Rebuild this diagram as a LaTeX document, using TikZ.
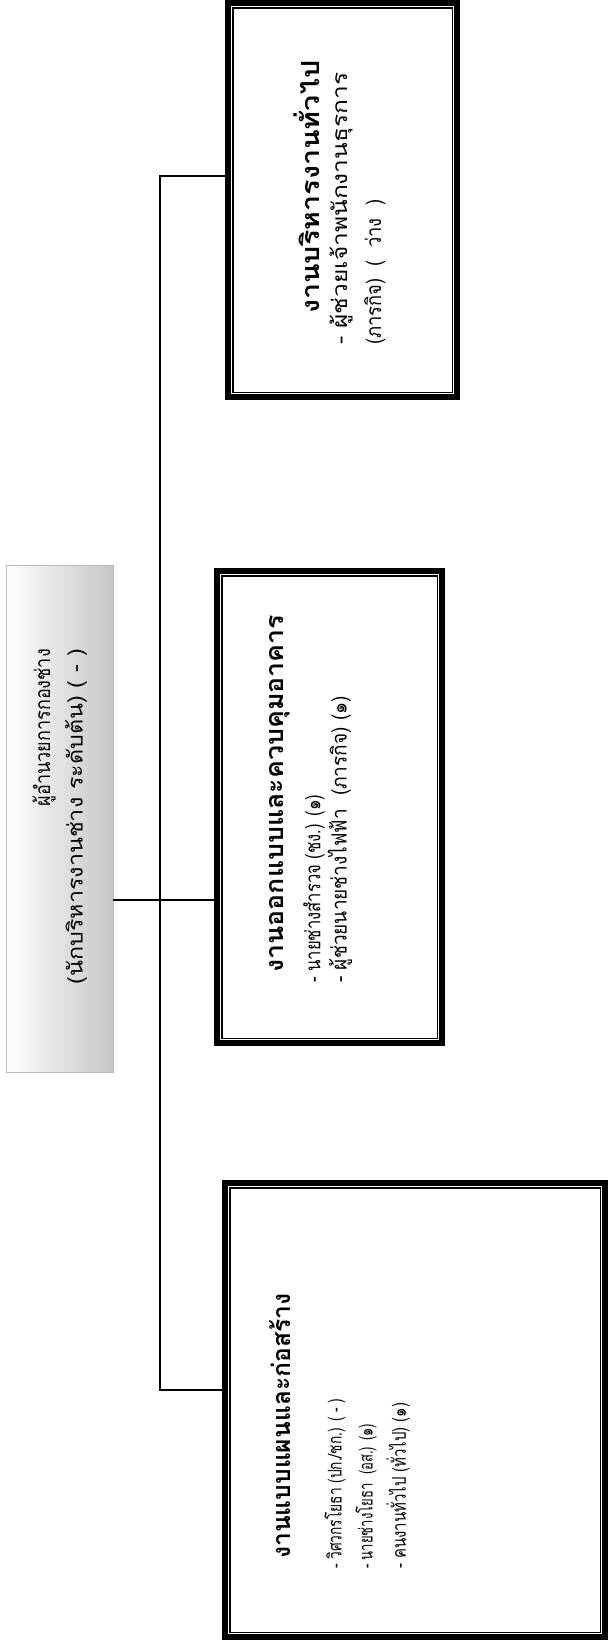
\documentclass[tikz,border=0pt]{standalone}
\usepackage{graphicx}
\usepackage{fontspec}
\newfontfamily\thai[Script=Thai]{Loma}
\usetikzlibrary{calc}
\newcommand{\fw}[2]{\resizebox{#1}{\height}{#2}}
\tikzset{
  outerbox/.style={draw=black, line width=6.5pt, rectangle, inner sep=0pt},
  innerbox/.style={draw=black, line width=1.5pt},
  conn/.style={draw=black, line width=1.2pt},
  rootbox/.style={rectangle, draw=gray!55, line width=0.8pt, left color=white, right color=gray!45, inner sep=0pt},
  ttl/.style={rotate=90, anchor=west, inner sep=0pt, font=\thai\bfseries\fontsize{25}{29}\selectfont},
  itm/.style={rotate=90, anchor=west, inner sep=0pt, font=\thai\fontsize{21}{25}\selectfont},
  itmsmall/.style={itm, font=\thai\fontsize{19}{23}\selectfont},
  rtxt/.style={rotate=90, anchor=east, inner sep=0pt, font=\thai\fontsize{21}{25}\selectfont},
}
\begin{document}
\begin{tikzpicture}[x=1pt,y=-1pt]
\useasboundingbox (0,0) rectangle (610,1642);
\fill[white] (0,0) rectangle (610,1642);
% root box
\node[rootbox, minimum width=107pt, minimum height=507pt] (root) at (59.5,818.5) {};
\node[rtxt] (r1) at (44,649) {\fw{157pt}{ผู้อำนวยการกองช่าง}};
\node[rtxt] (r2) at (76,649) {\fw{335pt}{(นักบริหารงานช่าง ระดับต้น) ( - )}};
% box 3 (top)
\node[outerbox, minimum width=229pt, minimum height=394pt] (b3) at (342.5,200) {};
\draw[innerbox] ([shift={(8,8)}]b3.north west) rectangle ([shift={(-8,-8)}]b3.south east);
\node[ttl] (t3) at (307,314) {\fw{253pt}{งานบริหารงานทั่วไป}};
\node[itm] (t3a) at (341,345) {\fw{272pt}{- ผู้ช่วยเจ้าพนักงานธุรการ}};
\node[itm] (t3b) at (375,345) {\fw{145pt}{(ภารกิจ)\ \ ( \ ว่าง \ )}};
% box 2 (middle)
\node[outerbox, minimum width=225pt, minimum height=472pt] (b2) at (329.5,807) {};
\draw[innerbox] ([shift={(8,8)}]b2.north west) rectangle ([shift={(-8,-8)}]b2.south east);
\node[ttl] (t2) at (280,973) {\fw{358pt}{งานออกแบบและควบคุมอาคาร}};
\node[itm] (t2a) at (314,983) {\fw{188pt}{- นายช่างสำรวจ (ชง.) (๑)}};
\node[itm] (t2b) at (340,983) {\fw{287pt}{- ผู้ช่วยนายช่างไฟฟ้า\ \ (ภารกิจ) (๑)}};
% box 1 (bottom)
\node[outerbox, minimum width=380pt, minimum height=454pt] (b1) at (415,1410) {};
\draw[innerbox] ([shift={(8,8)}]b1.north west) rectangle ([shift={(-8,-8)}]b1.south east);
\node[ttl] (t1) at (280,1559) {\fw{265pt}{งานแบบแผนและก่อสร้าง}};
\node[itmsmall] (t1a) at (335,1569) {\fw{170pt}{- วิศวกรโยธา (ปก./ชก.) ( - )}};
\node[itmsmall] (t1b) at (366,1569) {\fw{145pt}{- นายช่างโยธา\ \ (อส.) (๑)}};
\node[itmsmall] (t1c) at (398,1569) {\fw{166pt}{- คนงานทั่วไป (ทั่วไป) (๑)}};
% connectors
\coordinate (ct) at (160,176);
\coordinate (cm) at (160,900);
\coordinate (cb) at (160,1390);
\draw[conn] (ct -| b3.west) -- (ct) -- (cb) -- (cb -| b1.west);
\draw[conn] (cm -| root.east) -- (cm -| b2.west);
\end{tikzpicture}
\end{document}
